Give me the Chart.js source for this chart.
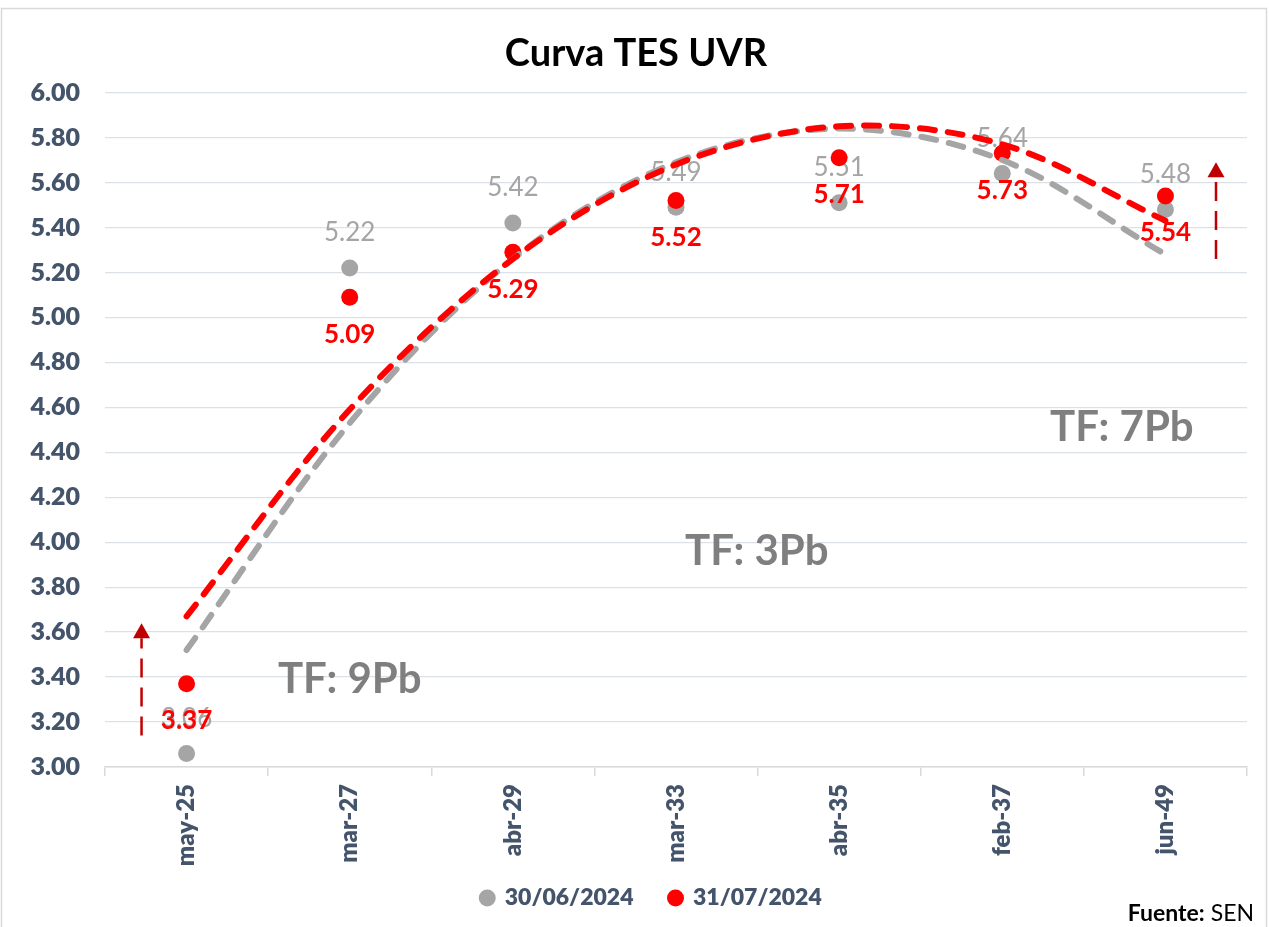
<!DOCTYPE html>
<html><head><meta charset="utf-8">
<script src="https://cdn.jsdelivr.net/npm/chart.js@4.4.1/dist/chart.umd.min.js"></script>
<style>
html,body{margin:0;padding:0;background:#fff;overflow:hidden}
#wrap{position:relative;width:1269px;height:927px}
</style></head><body>
<div id="wrap"><canvas id="c"></canvas></div>
<script>
// ---- data ----
const categories = ['may-25','mar-27','abr-29','mar-33','abr-35','feb-37','jun-49'];
const seriesNames = ['30/06/2024','31/07/2024'];
const serieJun = [3.06, 5.22, 5.42, 5.49, 5.51, 5.64, 5.48];
const serieJul = [3.37, 5.09, 5.29, 5.52, 5.71, 5.73, 5.54];
// trendline (polynomial) values read at each category
const tendJun = [3.52, 4.53, 5.26, 5.69, 5.84, 5.70, 5.28];
const tendJul = [3.67, 4.59, 5.26, 5.68, 5.85, 5.77, 5.43];
const yMin = 3, yMax = 6, yStep = 0.2;
const annotations = [
  {text:'TF: 9Pb', x:1.0,   y:3.39},
  {text:'TF: 3Pb', x:3.495, y:3.96},
  {text:'TF: 7Pb', x:5.733, y:4.51}
];
const arrows = [
  {x:-0.276, from:3.14, to:3.64},
  {x:6.31,   from:5.26, to:5.69}
];
const sourceBold = 'Fuente:';
const sourceText = ' SEN';

const FONT = 'Lato';
const GREY = '#A5A5A5', RED = '#FF0000', SLATE = '#44546A';

const labelPlugin = {
  id:'pointLabels',
  afterDatasetDraw(chart, args) {
    const ds = chart.data.datasets[args.index];
    if (!ds.labelStyle) return;
    const ctx = chart.ctx, st = ds.labelStyle;
    ctx.save();
    ctx.font = st.font; ctx.fillStyle = st.color;
    ctx.textAlign = 'center'; ctx.textBaseline = 'middle';
    args.meta.data.forEach((pt, i) => {
      ctx.fillText(ds.data[i].toFixed(2), pt.x, pt.y + st.dy);
    });
    ctx.restore();
  }
};

const shiftPlugin = {
  id:'shiftBoxes',
  afterLayout(chart) {
    if (chart.titleBlock) { chart.titleBlock.left += 12.5; chart.titleBlock.right += 12.5; }
    if (chart.legend) { chart.legend.left += 28; chart.legend.right += 28; }
    // let the rotated category labels run a little into the legend band (no clipping)
    if (chart.scales.x) { chart.scales.x.bottom += 30; }
  }
};

const framePlugin = {
  id:'frame',
  beforeDraw(chart) {
    const ctx = chart.ctx;
    ctx.save();
    ctx.fillStyle = '#fff'; ctx.fillRect(0,0,chart.width,chart.height);
    ctx.strokeStyle = '#D9D9D9'; ctx.lineWidth = 1.5;
    ctx.strokeRect(1.5, 8.5, 1265, 940);
    ctx.restore();
  },
  afterDraw(chart) {
    const ctx = chart.ctx, xs = chart.scales.x, ys = chart.scales.y;
    ctx.save();
    // annotations
    ctx.font = 'bold 42px ' + FONT; ctx.fillStyle = '#7F7F7F';
    ctx.textAlign = 'center'; ctx.textBaseline = 'middle';
    annotations.forEach(a => ctx.fillText(a.text, xs.getPixelForValue(a.x), ys.getPixelForValue(a.y)));
    // arrows
    arrows.forEach(a => {
      const x = xs.getPixelForValue(a.x), yb = ys.getPixelForValue(a.from), yt = ys.getPixelForValue(a.to);
      const hh = 15, hw = 17;
      ctx.strokeStyle = '#C00000'; ctx.fillStyle = '#C00000'; ctx.lineWidth = 2.5;
      ctx.setLineDash([19,10]);
      ctx.beginPath(); ctx.moveTo(x, yb); ctx.lineTo(x, yt + hh); ctx.stroke();
      ctx.setLineDash([]);
      ctx.beginPath(); ctx.moveTo(x, yt); ctx.lineTo(x - hw/2, yt + hh); ctx.lineTo(x + hw/2, yt + hh); ctx.closePath(); ctx.fill();
    });
    // source
    ctx.fillStyle = '#000'; ctx.textBaseline = 'middle'; ctx.textAlign = 'left';
    ctx.font = '23px ' + FONT;
    const w2 = ctx.measureText(sourceText).width;
    ctx.font = 'bold 23px ' + FONT;
    const w1 = ctx.measureText(sourceBold).width;
    const xr = 1254, yS = 914;
    ctx.fillText(sourceBold, xr - w1 - w2, yS);
    ctx.font = '23px ' + FONT;
    ctx.fillText(sourceText, xr - w2, yS);
    ctx.restore();
  }
};

function build() {
  const tickFont = {family: FONT, weight:'800', size:25};
  const xTickFont = {family: FONT, weight:'800', size:24};
  const legendFont = {family: FONT, weight:'800', size:23};
  new Chart(document.getElementById('c'), {
    type:'line',
    data:{
      labels: categories,
      datasets:[
        {label: seriesNames[0], data: serieJun, showLine:false, order:4,
         pointStyle:'circle', pointRadius:8.5, pointHoverRadius:8.5, pointBorderWidth:0,
         backgroundColor:GREY, borderColor:GREY, borderWidth:0, pointBackgroundColor:GREY,
         labelStyle:{font:'26px ' + FONT, color:GREY, dy:-35}},
        {label: seriesNames[1], data: serieJul, showLine:false, order:3,
         pointStyle:'circle', pointRadius:8.5, pointHoverRadius:8.5, pointBorderWidth:0,
         backgroundColor:RED, borderColor:RED, borderWidth:0, pointBackgroundColor:RED,
         labelStyle:{font:'bold 26px ' + FONT, color:RED, dy:37}},
        {label:'tend1', data: tendJun, order:2, borderColor:GREY, borderWidth:6,
         borderDash:[15,13], borderCapStyle:'round', pointRadius:0, tension:0.33, fill:false},
        {label:'tend2', data: tendJul, order:1, borderColor:RED, borderWidth:6,
         borderDash:[15,13], borderCapStyle:'round', pointRadius:0, tension:0.33, fill:false}
      ]
    },
    options:{
      responsive:true, maintainAspectRatio:false, animation:false, events:[],
      layout:{padding:{left:0, right:22, top:0, bottom:7.5}},
      plugins:{
        title:{display:true, text:'Curva TES UVR', color:'#000',
               font:{family:FONT, weight:'bold', size:38}, padding:{top:31, bottom:16}},
        legend:{position:'bottom',
          labels:{usePointStyle:true, boxWidth:12, boxHeight:12, padding:36, color:SLATE,
                  font:legendFont, filter:(item) => item.datasetIndex < 2,
                  sort:(a, b) => a.datasetIndex - b.datasetIndex}},
        tooltip:{enabled:false}
      },
      scales:{
        x:{type:'category', offset:true,
           grid:{offset:true, drawOnChartArea:false, drawTicks:true, tickLength:9, color:'#D9D9D9', lineWidth:1.5},
           border:{display:true, color:'#D9D9D9', width:1.5},
           ticks:{minRotation:90, maxRotation:90, padding:8, color:SLATE, font:xTickFont},
           afterFit(s){ s.height = 83.5; }},
        y:{min:yMin, max:yMax,
           ticks:{stepSize:yStep, padding:25, color:SLATE, font:tickFont, callback:(v) => Number(v).toFixed(2)},
           grid:{color:'#DCE1E8', lineWidth:1.3, drawTicks:false},
           border:{display:false},
           afterFit(s){ s.width = 105; }}
      }
    },
    plugins:[labelPlugin, shiftPlugin, framePlugin]
  });
}
Promise.all([document.fonts.load('800 23px Lato'), document.fonts.load('bold 23px Lato'), document.fonts.load('23px Lato')]).then(build, build);
</script>
</body></html>
